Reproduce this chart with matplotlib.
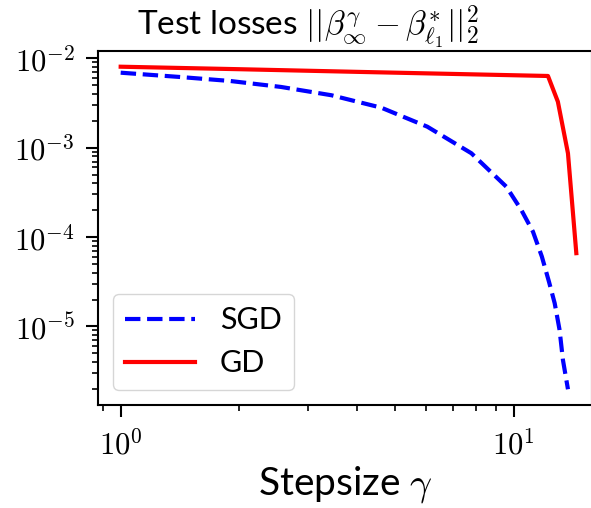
import math
import matplotlib
matplotlib.use("Agg")
import matplotlib.pyplot as plt
from matplotlib.ticker import FuncFormatter, LogLocator

plt.rcParams['mathtext.fontset'] = 'cm'
plt.rcParams['font.family'] = ['Lato', 'DejaVu Sans']

# data
sgd_step = [1.0, 1.413, 1.902, 2.558, 3.437, 4.606, 6.03, 7.806,
            9.58, 10.46, 11.20, 11.80, 12.30, 12.72, 13.09, 13.35, 13.75]
sgd_loss = [6.9e-3, 6.18e-3, 5.57e-3, 4.78e-3, 3.86e-3, 2.80e-3,
            1.717e-3, 8.66e-4, 3.66e-4, 2.01e-4, 1.149e-4, 6.04e-5, 3.17e-5,
            1.82e-5, 9.14e-6, 4.22e-6, 1.98e-6]
gd_step = [1.0, 2.0, 4.0, 8.0, 12.23, 12.96, 13.75, 14.44]
gd_loss = [8.05e-3, 7.55e-3, 7.05e-3, 6.6e-3, 6.34e-3, 3.27e-3, 8.65e-4, 6.6e-5]

fig = plt.figure(figsize=(5.91, 5.08), dpi=100)
ax = fig.add_axes([97.7 / 591, 103 / 508, 494.3 / 591, 354.3 / 508])

ax.plot(sgd_step, sgd_loss, '--', color='blue', lw=3, label='SGD')
ax.plot(gd_step, gd_loss, '-', color='red', lw=3, label='GD')

ax.set_xscale('log')
ax.set_yscale('log')
ax.set_xlim(0.874, 15.83)
ax.set_ylim(1.32e-6, 1.216e-2)

sci = FuncFormatter(lambda v, p: r'$10^{%d}$' % round(math.log10(v)))
ax.xaxis.set_major_formatter(sci)
ax.yaxis.set_major_formatter(sci)
ax.yaxis.set_major_locator(LogLocator(base=10, numticks=10))
ax.yaxis.set_minor_locator(LogLocator(base=10, subs=range(2, 10), numticks=20))

for s in ax.spines.values():
    s.set_linewidth(1.5)
ax.tick_params(which='major', length=8.5, width=1.5, labelsize=22, pad=8)
ax.tick_params(which='minor', length=4.5, width=1.2)

ax.set_xlabel(r'Stepsize $\gamma$', fontsize=28, labelpad=4)
ax.set_title(r'Test losses $||\beta^{\gamma}_{\infty} - \beta^{*}_{\ell_1}||^2_2$',
             fontsize=24, x=0.425, pad=5)

ax.legend(loc='lower left', fontsize=22, handlelength=2.3,
          borderaxespad=0.5, borderpad=0.4)

fig.savefig('out.png', dpi=100)
